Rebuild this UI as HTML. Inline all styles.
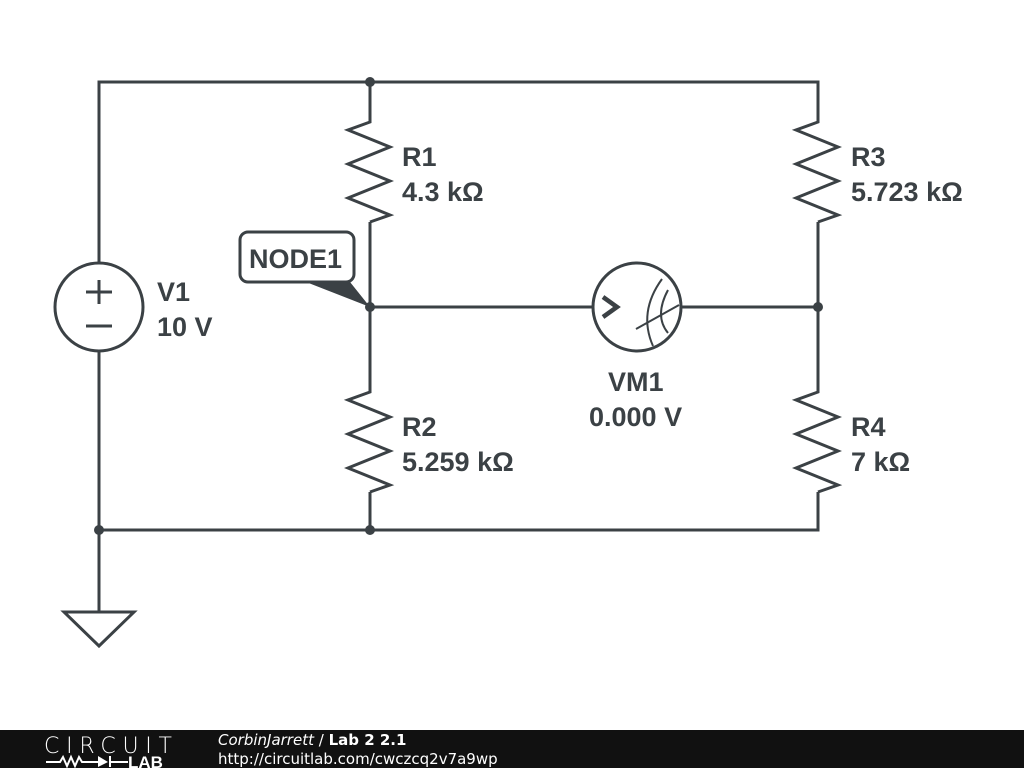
<!DOCTYPE html>
<html><head><style>body{margin:0;background:#fff}svg{display:block}</style></head><body>
<svg width="1024" height="768" xmlns="http://www.w3.org/2000/svg">
<defs>
<g id="res"><polyline points="0,0 0,4 -22,12 20,29 -22,46 20,63 -22,80 20,97 0,104" fill="none" stroke="#3b4145" stroke-width="3" stroke-linejoin="miter"/></g>
</defs>
<g stroke="#3b4145" stroke-width="3" fill="none">
<polyline points="99,263 99,82 818,82 818,118"/>
<line x1="370" y1="82" x2="370" y2="118"/>
<line x1="370" y1="222" x2="370" y2="388"/>
<line x1="818" y1="222" x2="818" y2="388"/>
<polyline points="99,351 99,530 818,530 818,492"/>
<line x1="370" y1="492" x2="370" y2="530"/>
<line x1="370" y1="307" x2="593" y2="307"/>
<line x1="681" y1="307" x2="818" y2="307"/>
<line x1="99" y1="530" x2="99" y2="612"/>
<polygon points="64,612 134,612 99,646"/>
<circle cx="99" cy="307" r="44"/>
<line x1="86" y1="292" x2="112" y2="292"/><line x1="99" y1="280" x2="99" y2="304"/>
<line x1="86" y1="326" x2="112" y2="326"/>
<circle cx="637" cy="307" r="44"/>
<path d="M662,279 Q638,312 653,346" stroke-width="2"/>
<path d="M668,290 Q654,316 668,333" stroke-width="2"/>
<line x1="636" y1="329" x2="679" y2="305" stroke-width="2"/>
<polyline points="603,297 617,307 603,317" stroke-width="4.5"/>
</g>
<use href="#res" x="370" y="118"/><use href="#res" x="370" y="388"/>
<use href="#res" x="818" y="118"/><use href="#res" x="818" y="388"/>
<g fill="#3b4145">
<circle cx="370" cy="82" r="5"/><circle cx="370" cy="307" r="5"/><circle cx="818" cy="307" r="5"/>
<circle cx="99" cy="530" r="5"/><circle cx="370" cy="530" r="5"/>
<polygon points="306,282 350,282 370,307"/>
</g>
<rect x="240" y="232" width="114" height="50" rx="8" fill="#fff" stroke="#3b4145" stroke-width="3"/>
<g font-family="Liberation Sans, sans-serif" font-weight="bold" font-size="27" fill="#3b4145">
<text x="249" y="268">NODE1</text>
<text x="402" y="166">R1</text><text x="402" y="201">4.3 kΩ</text>
<text x="851" y="166">R3</text><text x="851" y="201">5.723 kΩ</text>
<text x="402" y="436">R2</text><text x="402" y="471">5.259 kΩ</text>
<text x="851" y="436">R4</text><text x="851" y="471">7 kΩ</text>
<text x="157" y="301">V1</text><text x="157" y="336">10 V</text>
<text x="608" y="391">VM1</text><text x="589" y="426">0.000 V</text>
</g>
<rect x="0" y="730" width="1024" height="38" fill="#111"/>
<text x="44" y="753" font-family="DejaVu Sans, sans-serif" font-size="22" fill="#fff" textLength="128" font-weight="200">CIRCUIT</text>
<g stroke="#fff" stroke-width="2" fill="none"><polyline points="46,762 60,762 63,757 67,766 71,757 75,766 79,757 82,762 98,762"/><line x1="110" y1="756" x2="110" y2="767"/><line x1="110" y1="762" x2="128" y2="762"/></g>
<polygon points="98,756 108,762 98,767" fill="#fff"/>
<text x="128" y="768" font-family="Liberation Sans, sans-serif" font-weight="bold" font-size="17" fill="#fff">LAB</text>
<text x="218" y="745" font-family="DejaVu Sans, sans-serif" font-size="15" fill="#fff"><tspan font-style="italic">CorbinJarrett</tspan> / <tspan font-weight="bold">Lab 2 2.1</tspan></text>
<text x="218" y="764" font-family="DejaVu Sans, sans-serif" font-size="15" fill="#fff">http://circuitlab.com/cwczcq2v7a9wp</text>
</svg>
</body></html>
